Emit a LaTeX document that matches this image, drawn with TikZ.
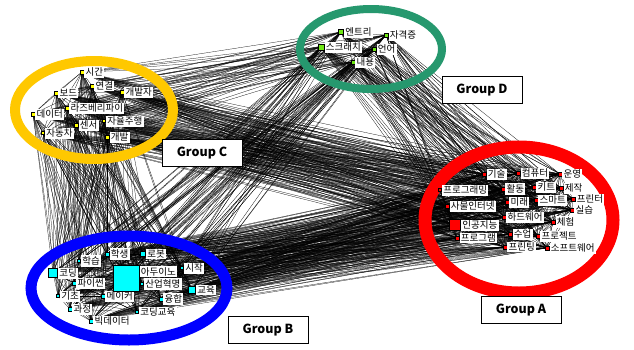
\documentclass[tikz,border=0pt]{standalone}
\usepackage{fontspec}
\newfontfamily\cjk{Noto Sans CJK KR}
\usetikzlibrary{positioning}
\pgfdeclarelayer{edges}
\pgfsetlayers{edges,main}
\definecolor{ringC}{RGB}{255,200,0}
\definecolor{ringD}{RGB}{38,152,110}
\definecolor{ringA}{RGB}{255,0,0}
\definecolor{ringB}{RGB}{0,0,255}
\definecolor{mkC}{RGB}{255,255,0}
\definecolor{mkD}{RGB}{110,230,20}
\definecolor{mkA}{RGB}{255,0,0}
\definecolor{mkB}{RGB}{0,255,255}
\tikzset{
  term/.style={fill=white, inner sep=1.2pt, font=\cjk\fontsize{9.5}{10}\selectfont},
  mk/.style={draw=black, line width=0.2pt, rectangle, inner sep=0pt, minimum size=#1},
  mk/.default=3.5pt,
  groupbox/.style={draw=black, line width=0.9pt, fill=white, minimum width=80pt,
    minimum height=27pt, font=\cjk\bfseries\fontsize{12.5}{13}\selectfont},
  ring/.style={line width=#1},
}
\def\allnodes{c1,c2,c3,c4,c5,c6,c7,c8,c9,c10,d1,d2,d3,d4,d5,a1,a2,a3,a4,a5,a6,a7,a8,a9,a10,a11,a12,a13,a14,a15,a16,a17,a18,a19,a20,b1,b2,b3,b4,b5,b6,b7,b8,b9,b10,b11,b12,b13,b14,b15}
\begin{document}
\begin{tikzpicture}[x=1pt,y=-1pt]
\useasboundingbox (0,0) rectangle (634,349);
% group rings
\draw[ring=10pt, ringC] (94,110) ellipse [x radius=79, y radius=49];
\draw[ring=8pt, ringD] (371,49) ellipse [x radius=71, y radius=40];
\draw[ring=13pt, ringA] (519,220) ellipse [x radius=94, y radius=73];
\draw[ring=11pt, ringB] (129,288) ellipse [x radius=98, y radius=52];
% group C
\foreach \n/\x/\y/\s/\t in {c1/82/72/3.5/시간, c2/92/86/3.5/연결, c3/56/93/3.5/보드,
  c4/122/92/3.5/개발자, c5/67/108/3.5/라즈베리파이, c6/33/114/3.5/데이터, c7/76/125/4/센서,
  c8/104/121/3/자율주행, c9/43/133/3/자동차, c10/107/137/4/개발}{
  \node[mk=\s pt, fill=mkC] (\n) at (\x,\y) {};
  \node[term, right=0.4pt of \n] (\n t) {\t};
}
% group D
\foreach \n/\x/\y/\s/\t in {d1/341/32/5/엔트리, d2/386/35/4/자격증, d3/321/47/6/스크래치,
  d4/374/49/4/언어, d5/353/62/3.5/내용}{
  \node[mk=\s pt, fill=mkD] (\n) at (\x,\y) {};
  \node[term, right=0.4pt of \n] (\n t) {\t};
}
% group A
\foreach \n/\x/\y/\s/\t in {a1/484/174/4/기술, a2/518/173/4/컴퓨터, a3/560/174/3.5/운영,
  a4/440/190/3/프로그래밍, a5/503/189/3.5/활동, a6/534/187/3.5/키트, a7/561/188/4/제작,
  a8/573/199/4/프린터, a9/536/200/3.5/스마트, a10/507/202/3.5/미래, a11/447/206/4/사물인터넷,
  a12/572/210/3.5/실습, a13/455/225/11/인공지능, a14/504/217/3.5/하드웨어, a15/553/222/4/체험,
  a16/457/238/4/프로그램, a17/510/234/4/수업, a18/538/236/3.5/프로젝트, a19/505/247/3.5/프린팅,
  a20/547/248/4/소프트웨어}{
  \node[mk=\s pt, fill=mkA] (\n) at (\x,\y) {};
  \node[term, right=0.4pt of \n] (\n t) {\t};
}
% group B
\foreach \n/\x/\y/\s/\t in {b1/107/254/4/학생, b2/143/254/5/로봇, b3/79/261/3/학습,
  b4/53/273/9/코딩, b6/182/268/3/시작, b7/74/283/3.5/파이썬, b8/142/284/3/산업혁명,
  b9/192/290/7/교육, b10/58/296/3/기초, b11/103/296/3.5/메이커, b12/161/299/3.5/융합,
  b13/70/309/3.5/과정, b14/137/312/3/코딩교육, b15/91/321/3.5/빅데이터}{
  \node[mk=\s pt, fill=mkB] (\n) at (\x,\y) {};
  \node[term, right=0.4pt of \n] (\n t) {\t};
}
\node[mk=26pt, fill=mkB] (b5) at (126,278) {};
\node[term, anchor=north west] (b5 t) at ([xshift=0.4pt,yshift=-1pt]b5.north east) {아두이노};
% links
\begin{pgfonlayer}{edges}
\foreach \u [count=\i] in \allnodes {
  \foreach \v [count=\j] in \allnodes {
    \ifnum\j>\i \draw[line width=0.25pt] (\u.center) -- (\v.center); \fi
  }
}
\end{pgfonlayer}
% group labels
\node[groupbox] (gC) at (202,153) {Group C};
\node[groupbox] (gD) at (482,90) {Group D};
\node[groupbox] (gA) at (521,310) {Group A};
\node[groupbox] (gB) at (268,330) {Group B};
\end{tikzpicture}
\end{document}
